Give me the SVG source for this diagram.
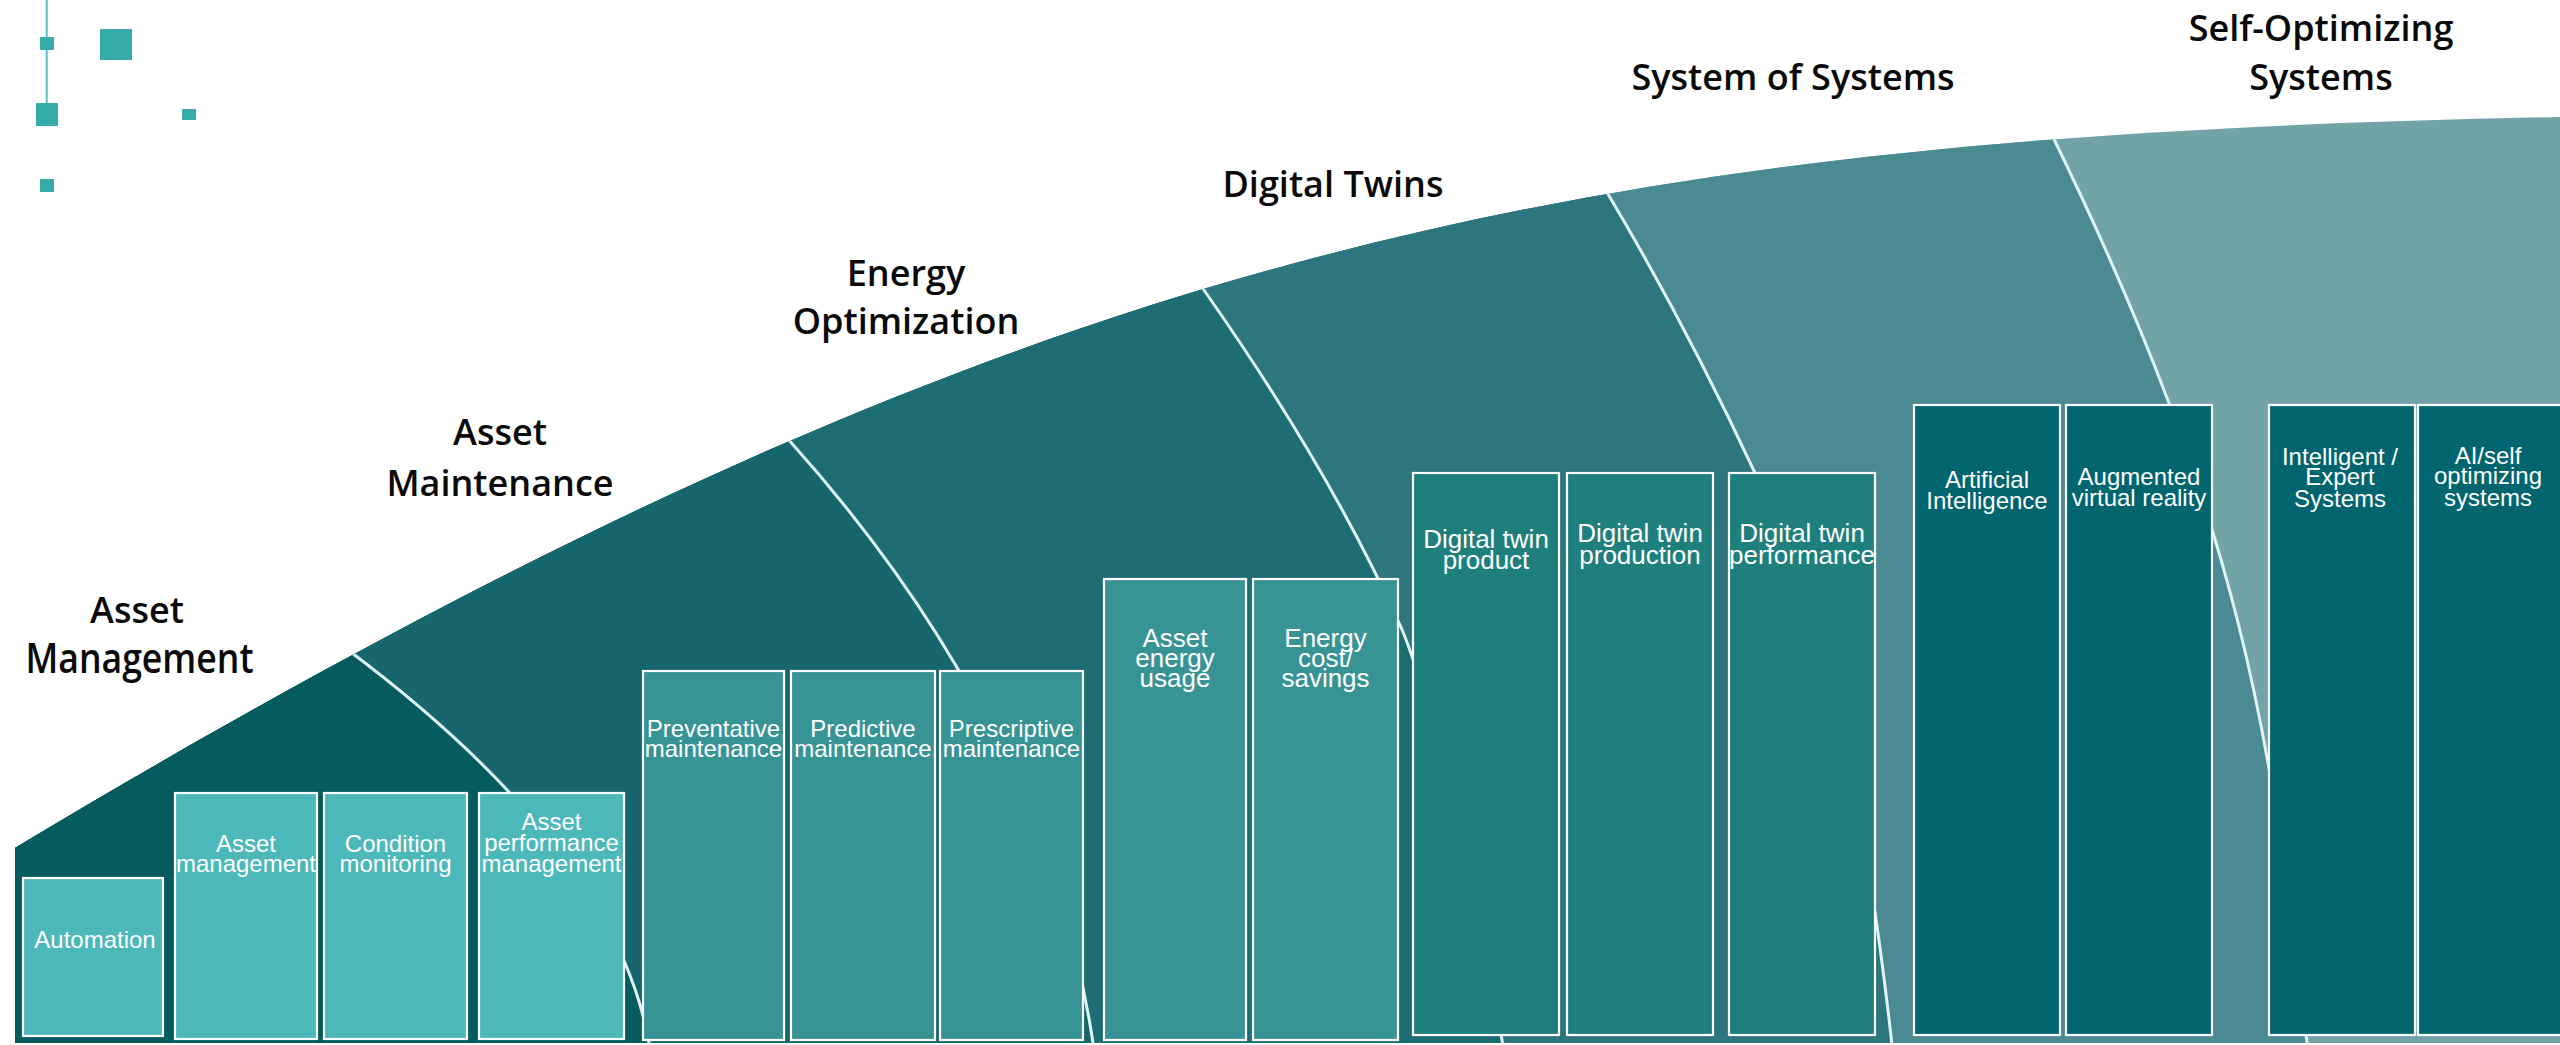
<svg xmlns="http://www.w3.org/2000/svg" width="2560" height="1045" viewBox="0 0 2560 1045">
<style>
.hd{font-family:"Open Sans","Noto Sans","Liberation Sans",sans-serif;font-weight:600;font-size:36px;fill:#0a0a0a;text-anchor:middle}
.hd40{font-size:41px}
.bx rect{stroke:#ffffff;stroke-width:2.2}
.bt{font-family:"Liberation Sans",Arial,sans-serif;font-size:24px;fill:#ffffff;text-anchor:middle}
.bt26{font-size:26px}
.c1{fill:#4cb8b9}.c2{fill:#389494}.c3{fill:#1f7f7c}.c4{fill:#00656e}
.dv{fill:none;stroke:#dff4f5;stroke-width:3}
.sq{fill:#35aba7}
</style>
<defs>
<clipPath id="fanClip"><path d="M15,1043 L15,848 C1016,248 1560,137 2560,117 L2560,1043 Z"/></clipPath>
</defs>
<rect width="2560" height="1045" fill="#ffffff"/>

<g id="decor">
<line x1="46.7" y1="0" x2="46.7" y2="104" stroke="#5bbfc3" stroke-width="2"/>
<rect class="sq" x="40" y="37" width="14" height="13" rx="1"/>
<rect class="sq" x="100" y="29" width="32" height="31" rx="1"/>
<rect class="sq" x="36" y="103" width="22" height="23" rx="1"/>
<rect class="sq" x="182" y="109" width="14" height="11" rx="1"/>
<rect class="sq" x="40" y="179" width="14" height="13" rx="1"/>
</g>

<g id="fan" clip-path="url(#fanClip)">
<rect x="0" y="0" width="2560" height="1045" fill="#72a4a7"/>
<path fill="#4b8a93" d="M0,0 L2035,100 L2050,131 C2246,531 2271,743 2307,1043 L2310,1050 L0,1050 Z"/>
<path fill="#2e767e" d="M0,0 L1592,164 L1608,194 Q1686,325 1755,473 Q1847,641 1892,1045 L1893,1050 L0,1050 Z"/>
<path fill="#1f6d74" d="M0,0 L1186,263 L1206,293 Q1330,470 1400,625 Q1436,705 1503,1045 L1504,1050 L0,1050 Z"/>
<path fill="#17666d" d="M0,0 L760,408 L788,439 Q1045,725 1093,1043 L1094,1050 L0,1050 Z"/>
<path fill="#065b5e" d="M0,0 L310,620 L348,650 Q615,850 649,1043 L650,1050 L0,1050 Z"/>
</g>

<g id="connectors" clip-path="url(#fanClip)">
<path class="dv" d="M310,620 L348,650 Q615,850 649,1043 L650,1050"/>
<path class="dv" d="M760,408 L788,439 Q1045,725 1093,1043 L1094,1050"/>
<path class="dv" d="M1186,263 L1206,293 Q1330,470 1400,625 Q1436,705 1503,1045"/>
<path class="dv" d="M1592,164 L1608,194 Q1686,325 1755,473 Q1847,641 1892,1045"/>
<path class="dv" d="M2035,100 L2050,131 C2246,531 2271,743 2307,1043 L2308,1050"/>
</g>

<g id="headings">
<g id="h-asset-management"><text class="hd" x="137" y="623">Asset</text><text class="hd hd40" x="139.5" y="673" textLength="228" lengthAdjust="spacingAndGlyphs">Management</text></g>
<g id="h-asset-maintenance"><text class="hd" x="500" y="445">Asset</text><text class="hd" x="500" y="496">Maintenance</text></g>
<g id="h-energy-optimization"><text class="hd" x="906" y="286">Energy</text><text class="hd" x="906" y="334">Optimization</text></g>
<g id="h-digital-twins"><text class="hd" x="1333" y="197">Digital Twins</text></g>
<g id="h-system-of-systems"><text class="hd" x="1793" y="90">System of Systems</text></g>
<g id="h-self-optimizing"><text class="hd" x="2321" y="41">Self-Optimizing</text><text class="hd" x="2321" y="90">Systems</text></g>
</g>

<g id="boxes">
<g id="b-automation" class="bx"><rect class="c1" x="23" y="878" width="140" height="158"/><text class="bt" x="95" y="948">Automation</text></g>
<g id="b-asset-management" class="bx"><rect class="c1" x="175" y="793" width="142" height="246"/><text class="bt" x="246" y="852">Asset</text><text class="bt" x="246" y="872">management</text></g>
<g id="b-condition-monitoring" class="bx"><rect class="c1" x="324" y="793" width="143" height="246"/><text class="bt" x="395.5" y="852">Condition</text><text class="bt" x="395.5" y="872">monitoring</text></g>
<g id="b-asset-performance" class="bx"><rect class="c1" x="479" y="793" width="145" height="246"/><text class="bt" x="551.5" y="830">Asset</text><text class="bt" x="551.5" y="851">performance</text><text class="bt" x="551.5" y="872">management</text></g>

<g id="b-preventative" class="bx"><rect class="c2" x="643" y="671" width="141" height="369"/><text class="bt" x="713.5" y="737">Preventative</text><text class="bt" x="713.5" y="757">maintenance</text></g>
<g id="b-predictive" class="bx"><rect class="c2" x="791" y="671" width="144" height="369"/><text class="bt" x="863" y="737">Predictive</text><text class="bt" x="863" y="757">maintenance</text></g>
<g id="b-prescriptive" class="bx"><rect class="c2" x="940" y="671" width="143" height="369"/><text class="bt" x="1011.5" y="737">Prescriptive</text><text class="bt" x="1011.5" y="757">maintenance</text></g>
<g id="b-asset-energy" class="bx"><rect class="c2" x="1104" y="579" width="142" height="461"/><text class="bt bt26" x="1175" y="647">Asset</text><text class="bt bt26" x="1175" y="667">energy</text><text class="bt bt26" x="1175" y="687">usage</text></g>
<g id="b-energy-cost" class="bx"><rect class="c2" x="1253" y="579" width="145" height="461"/><text class="bt bt26" x="1325.5" y="647">Energy</text><text class="bt bt26" x="1325.5" y="667">cost/</text><text class="bt bt26" x="1325.5" y="687">savings</text></g>

<g id="b-dt-product" class="bx"><rect class="c3" x="1413" y="473" width="146" height="562"/><text class="bt bt26" x="1486" y="548">Digital twin</text><text class="bt bt26" x="1486" y="569">product</text></g>
<g id="b-dt-production" class="bx"><rect class="c3" x="1567" y="473" width="146" height="562"/><text class="bt bt26" x="1640" y="542">Digital twin</text><text class="bt bt26" x="1640" y="564">production</text></g>
<g id="b-dt-performance" class="bx"><rect class="c3" x="1729" y="473" width="146" height="562"/><text class="bt bt26" x="1802" y="542">Digital twin</text><text class="bt bt26" x="1802" y="564">performance</text></g>

<g id="b-ai" class="bx"><rect class="c4" x="1914" y="405" width="146" height="630"/><text class="bt" x="1987" y="488">Artificial</text><text class="bt" x="1987" y="509">Intelligence</text></g>
<g id="b-avr" class="bx"><rect class="c4" x="2066" y="405" width="146" height="630"/><text class="bt" x="2139" y="485">Augmented</text><text class="bt" x="2139" y="506">virtual reality</text></g>
<g id="b-expert" class="bx"><rect class="c4" x="2269" y="405" width="146" height="630"/><text class="bt" x="2340" y="465">Intelligent /</text><text class="bt" x="2340" y="485">Expert</text><text class="bt" x="2340" y="507">Systems</text></g>
<g id="b-self-opt" class="bx"><rect class="c4" x="2418" y="405" width="150" height="630"/><text class="bt" x="2488" y="464">AI/self</text><text class="bt" x="2488" y="484">optimizing</text><text class="bt" x="2488" y="506">systems</text></g>
</g>
</svg>
